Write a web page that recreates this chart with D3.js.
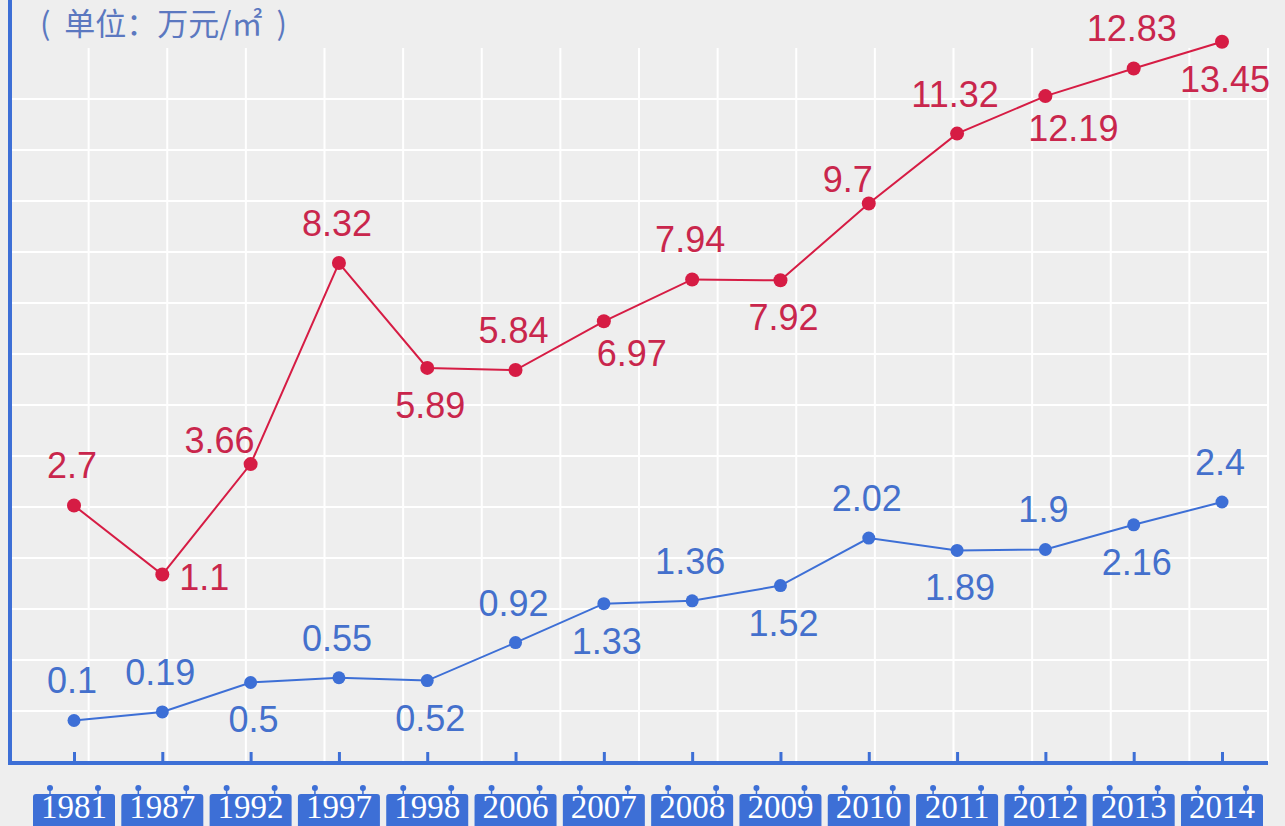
<!DOCTYPE html>
<html>
<head>
<meta charset="utf-8">
<script src="https://cdnjs.cloudflare.com/ajax/libs/d3/7.8.5/d3.min.js"></script>
<style>
body{margin:0;background:#eeeeee;overflow:hidden}
text{font-family:"Liberation Sans",Arial,sans-serif}
</style>
</head>
<body>
<script>
var years = ['1981','1987','1992','1997','1998','2006','2007','2008','2009','2010','2011','2012','2013','2014']
var high = [2.7, 1.1, 3.66, 8.32, 5.89, 5.84, 6.97, 7.94, 7.92, 9.7, 11.32, 12.19, 12.83, 13.45]
var low = [0.1, 0.19, 0.5, 0.55, 0.52, 0.92, 1.33, 1.36, 1.52, 2.02, 1.89, 1.9, 2.16, 2.4]
var unitLabel = '(  单位：万元/㎡  )'

// where each value label sits around its point
var highPos = ['top','right','topleft','top','bottom','top','bottomright','top','bottom','topleft','top','bottomright','top','bottom']
var lowPos = ['top','top','bottom','top','bottom','top','bottom','top','bottom','top','bottom','top','bottom','top']

var blue = '#3d6fd6', red = '#d61c44'
var width = 1285, height = 826

var svg = d3.select('body').append('svg').attr('width', width).attr('height', height)

var x = d3.scalePoint().domain(years).range([74, 1222])
var yHigh = d3.scaleLinear().domain([0, 14]).range([622, 18])
var yLow = d3.scaleLinear().domain([0, 2.4]).range([730, 502])

// background grid
var gx = d3.scaleLinear().domain([0, 16]).range([10, 1268])
var gy = d3.scaleLinear().domain([0, 14]).range([762, 48])

svg.append('g').selectAll('line').data(d3.range(0, 14)).join('line')
  .attr('x1', 10).attr('x2', 1268)
  .attr('y1', gy).attr('y2', gy)
  .attr('stroke', '#fff').attr('stroke-width', 2)

svg.append('g').selectAll('line').data(d3.range(1, 17)).join('line')
  .attr('x1', gx).attr('x2', gx)
  .attr('y1', 48).attr('y2', 762)
  .attr('stroke', '#fff').attr('stroke-width', 2)

// unit
svg.append('text').attr('x', 40).attr('y', 35)
  .style('font-family', '"Noto Sans CJK SC", sans-serif')
  .style('font-size', '31px').attr('fill', '#5b78c0')
  .style('white-space', 'pre').attr('xml:space', 'preserve')
  .text(unitLabel)

// axes
var xAxis = d3.axisBottom(x).tickSize(-10).tickFormat('')
var axisG = svg.append('g').attr('transform', 'translate(0,762)').call(xAxis)
axisG.select('.domain').remove()
axisG.selectAll('.tick line').attr('stroke', blue).attr('stroke-width', 3)

svg.append('line').attr('x1', 8).attr('x2', 1268).attr('y1', 763).attr('y2', 763)
  .attr('stroke', blue).attr('stroke-width', 4)
svg.append('line').attr('x1', 10).attr('x2', 10).attr('y1', 0).attr('y2', 765)
  .attr('stroke', blue).attr('stroke-width', 4)

// year boxes
var yearG = svg.append('g').selectAll('g').data(years).join('g')
  .attr('transform', function(d){ return 'translate(' + x(d) + ',0)' })

yearG.append('rect').attr('x', -41).attr('y', 794).attr('width', 82).attr('height', 40)
  .attr('rx', 3).attr('fill', blue)
yearG.selectAll('line.pin').data([-24, 24]).join('line').attr('class', 'pin')
  .attr('x1', function(d){ return d }).attr('x2', function(d){ return d })
  .attr('y1', 788).attr('y2', 796).attr('stroke', blue).attr('stroke-width', 1.5)
yearG.selectAll('circle').data([-24, 24]).join('circle')
  .attr('cx', function(d){ return d }).attr('cy', 788).attr('r', 3).attr('fill', blue)
yearG.append('text').attr('y', 818).attr('text-anchor', 'middle')
  .style('font-family', '"Liberation Serif", serif').style('font-size', '33px')
  .attr('fill', '#fff').text(function(d){ return d })

function drawSeries(values, y, pos, color, textColor, r){
  var pts = values.map(function(v, i){ return {year: years[i], value: v, pos: pos[i]} })
  var line = d3.line().x(function(d){ return x(d.year) }).y(function(d){ return y(d.value) })
  var g = svg.append('g')
  g.append('path').attr('d', line(pts)).attr('fill', 'none')
    .attr('stroke', color).attr('stroke-width', 2)
  g.selectAll('circle').data(pts).join('circle')
    .attr('cx', function(d){ return x(d.year) }).attr('cy', function(d){ return y(d.value) })
    .attr('r', r).attr('fill', color)

  var off = {
    top: [-2, -40, 'middle'],
    bottom: [3, 37, 'middle'],
    right: [17, 2, 'start'],
    topleft: [4, -24, 'end'],
    bottomright: [28, 32, 'middle']
  }
  g.selectAll('text').data(pts).join('text')
    .attr('x', function(d){ return x(d.year) + off[d.pos][0] })
    .attr('y', function(d){ return y(d.value) + off[d.pos][1] })
    .attr('dy', '0.36em')
    .attr('text-anchor', function(d){ return off[d.pos][2] })
    .style('font-size', '36px').attr('fill', textColor)
    .text(function(d){ return d.value })
}

drawSeries(high, yHigh, highPos, red, '#c9264c', 7)
drawSeries(low, yLow, lowPos, blue, '#4470cc', 6.5)
</script>
</body>
</html>
